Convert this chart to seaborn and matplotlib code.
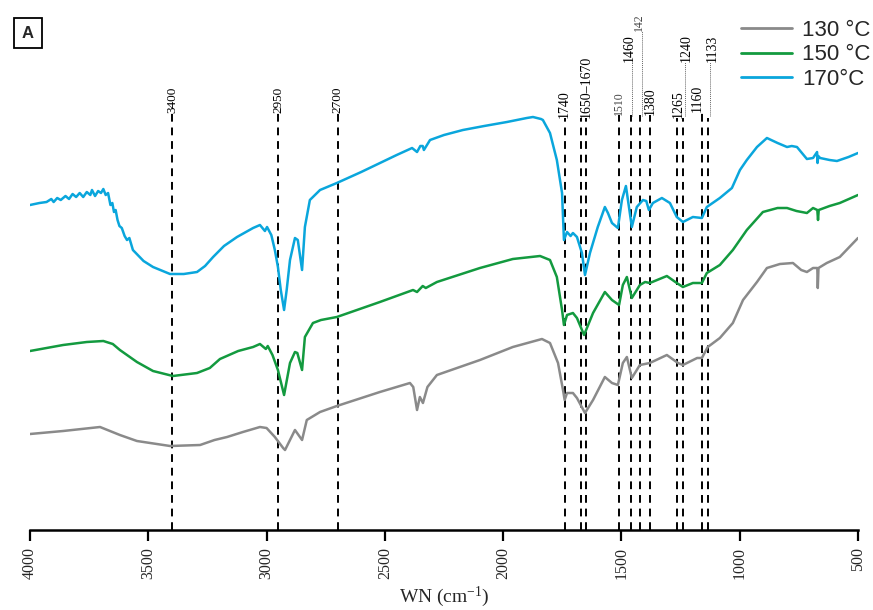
import numpy as np
import pandas as pd
import matplotlib
matplotlib.use("Agg")
import matplotlib.pyplot as plt
import seaborn as sns
from matplotlib.lines import Line2D

# ---------------- data (arbitrary transmittance units, offset per series) ----------------
wn_170 = [4000, 3960, 3930, 3910, 3900, 3885, 3870, 3850, 3835, 3820, 3805, 3790, 3775, 3760,
          3745, 3738, 3725, 3712, 3700, 3690, 3680, 3670, 3660, 3652, 3645, 3638, 3630, 3622,
          3612, 3600, 3590, 3580, 3565, 3520, 3480, 3408, 3350, 3294, 3260, 3226, 3180, 3125,
          3057, 3028, 3007, 2998, 2980, 2965, 2952, 2940, 2926, 2915, 2901, 2880, 2868, 2850,
          2838, 2817, 2774, 2703, 2600, 2521, 2450, 2385, 2364, 2350, 2340, 2335, 2309, 2250,
          2170, 2080, 1984, 1900, 1874, 1840, 1832, 1802, 1773, 1751, 1743, 1730, 1715, 1705,
          1688, 1667, 1654, 1633, 1600, 1570, 1557, 1540, 1515, 1498, 1481, 1468, 1456, 1435,
          1409, 1395, 1384, 1367, 1329, 1295, 1266, 1240, 1198, 1160, 1139, 1084, 1033, 999,
          970, 927, 885, 840, 800, 780, 758, 716, 690, 673, 671, 668, 660, 620, 589, 540, 500]
py_170 = [205, 203, 202, 199, 202, 198, 200, 196, 199, 194, 197, 193, 197, 192,
          195, 190, 196, 191, 193, 189, 195, 193, 205, 203, 212, 210, 220, 226,
          228, 236, 240, 238, 250, 261, 267, 274, 274, 272, 266, 257, 246, 237,
          228, 225, 231, 227, 235, 250, 267, 290, 310, 290, 260, 238, 240, 270,
          227, 200, 190, 183, 172, 163, 155, 148, 152, 146, 146, 150, 140, 135,
          130, 126, 122, 118, 117, 119, 120, 133, 160, 193, 240, 232, 236, 233,
          237, 253, 275, 253, 227, 207, 213, 223, 228, 200, 186, 207, 227, 207,
          200, 201, 210, 203, 198, 203, 217, 222, 217, 218, 207, 198, 188, 170,
          160, 147, 138, 143, 147, 146, 147, 159, 158, 152, 163, 156, 158, 160, 161, 157, 153]

wn_150 = [4000, 3930, 3860, 3760, 3690, 3650, 3620, 3548, 3480, 3396, 3294, 3240, 3197, 3120,
          3057, 3028, 3003, 2995, 2975, 2952, 2926, 2901, 2880, 2870, 2850, 2838, 2804, 2770,
          2703, 2521, 2381, 2364, 2340, 2327, 2280, 2098, 1959, 1844, 1802, 1773, 1751, 1743,
          1730, 1705, 1688, 1658, 1620, 1570, 1540, 1510, 1494, 1477, 1456, 1422, 1400, 1380,
          1308, 1266, 1240, 1198, 1160, 1139, 1084, 1029, 970, 902, 840, 800, 760, 716, 690,
          672, 669, 666, 620, 577, 500]
py_150 = [351, 348, 345, 342, 341, 344, 350, 362, 371, 376, 373, 368, 359, 351,
          347, 344, 349, 346, 355, 370, 395, 363, 352, 353, 370, 337, 323, 320,
          317, 302, 290, 292, 286, 288, 282, 268, 259, 256, 260, 277, 310, 325,
          315, 313, 318, 335, 313, 292, 300, 305, 285, 277, 298, 285, 282, 283,
          276, 283, 287, 283, 283, 273, 265, 250, 230, 212, 208, 208, 211, 213, 208,
          210, 220, 210, 206, 203, 195]

wn_130 = [4000, 3860, 3704, 3620, 3548, 3408, 3281, 3220, 3167, 3100, 3028, 3000, 2965, 2930,
          2922, 2880, 2850, 2830, 2774, 2703, 2521, 2394, 2380, 2364, 2352, 2339, 2320, 2280,
          2098, 1959, 1836, 1802, 1768, 1747, 1740, 1730, 1705, 1688, 1654, 1620, 1570, 1540,
          1515, 1494, 1477, 1456, 1422, 1380, 1308, 1261, 1240, 1180, 1160, 1135, 1084, 1029,
          986, 927, 885, 830, 775, 740, 716, 690, 672, 670, 667, 632, 577, 500]
py_130 = [434, 431, 427, 435, 441, 446, 445, 440, 437, 432, 427, 428, 437, 448,
          450, 430, 440, 420, 412, 406, 392, 383, 387, 410, 397, 403, 387, 375,
          360, 347, 339, 343, 363, 390, 400, 393, 393, 398, 413, 400, 377, 383,
          385, 363, 357, 378, 365, 363, 355, 363, 365, 358, 358, 347, 338, 323,
          300, 282, 268, 264, 263, 270, 272, 268, 268, 288, 268, 263, 257, 238]

series_names = ["130 °C", "150 °C", "170°C"]
series_colors = ["#8a8a8a", "#139a3f", "#0aa6dc"]

peak_wn = [3400, 2950, 2700, 1740, 1670, 1650, 1510, 1460, 1420, 1380, 1265, 1240, 1160, 1133]
peak_labels = ["3400", "2950", "2700", "1740", "1650–1670", "1510", "1460", "142",
               "1380", "1265", "1240", "1160", "1133"]
tick_vals = [4000, 3500, 3000, 2500, 2000, 1500, 1000, 500]

# ---------------- build frame ----------------
H = 530  # baseline height (axis units)
frames = []
for name, w, p in zip(series_names, [wn_130, wn_150, wn_170], [py_130, py_150, py_170]):
    frames.append(pd.DataFrame({"WN": w, "T": [H - v for v in p], "series": name}))
df = pd.concat(frames, ignore_index=True)

sns.set_style("white")
plt.rcParams["font.family"] = ["Liberation Serif", "DejaVu Serif"]
plt.rcParams["mathtext.default"] = "regular"

fig = plt.figure(figsize=(8.73, 6.10), dpi=100)
ax = fig.add_axes([30 / 873, 80 / 610, 828 / 873, 530 / 610])

# dashed reference lines
line_top = {3400: 113, 2950: 113, 2700: 113, 1740: 118, 1670: 118, 1650: 118, 1510: 115,
            1460: 115, 1420: 115, 1380: 115, 1265: 118, 1240: 118, 1160: 113, 1133: 118}
for w in peak_wn:
    ax.vlines(w, 0, H - line_top[w], colors="black", linestyles=(0, (4, 3)), linewidth=1.4, zorder=1)

sns.lineplot(data=df, x="WN", y="T", hue="series", palette=dict(zip(series_names, series_colors)),
             hue_order=series_names, estimator=None, sort=False, linewidth=1.8, ax=ax,
             legend=False, zorder=3)

# peak labels: (x position, bottom py, leader x or None, fontsize, color)
label_layout = [
    (3400, 113, None, 9.5, "black"),
    (2950, 113, None, 9.5, "black"),
    (2700, 113, None, 9.5, "black"),
    (1740, 118, None, 10, "black"),
    (1648, 118, None, 10, "black"),
    (1510, 115, None, 8.5, "#444444"),
    (1468, 62, 1455, 10, "black"),
    (1425, 31, 1415, 8.5, "#444444"),
    (1380, 115, None, 10, "black"),
    (1261, 118, None, 10, "black"),
    (1224, 62, 1232, 10, "black"),
    (1178, 112, None, 10, "black"),
    (1117, 62, 1126, 10, "black"),
]
for lab, (x, pyb, lx, fs, col) in zip(peak_labels, label_layout):
    ax.text(x, H - pyb, lab, rotation=90, ha="center", va="bottom", fontsize=fs, color=col,
            zorder=4)
    if lx is not None:
        ax.plot([lx, lx], [H - 116, H - pyb], color="#666666", linestyle=(0, (1, 1)),
                linewidth=0.7, zorder=2)

ax.set_xlim(4000, 500)
ax.set_ylim(0, H)
ax.set_xticks(tick_vals)
ax.set_xticklabels([str(t) for t in tick_vals], rotation=90, fontsize=11.5)
ax.set_yticks([])
ax.set_ylabel("")
ax.set_xlabel("WN (cm$^{-1}$)", fontsize=14, labelpad=4)
for s in ["top", "left", "right"]:
    ax.spines[s].set_visible(False)
ax.spines["bottom"].set_linewidth(1.8)
ax.spines["bottom"].set_color("black")
ax.tick_params(axis="x", direction="out", length=8, width=1.6, color="black", pad=4, bottom=True)
ax.patch.set_alpha(0)

# legend
handles = [Line2D([0], [0], color=c, linewidth=2) for c in series_colors]
leg = fig.legend(handles, series_names, loc="upper right", bbox_to_anchor=(1.02, 1.0),
                 frameon=False, handlelength=2.3, handletextpad=0.45, labelspacing=0.15,
                 prop={"family": ["Liberation Sans", "DejaVu Sans"], "size": 16})

# panel letter
fig.text(28 / 873, 1 - 33 / 610, "A", fontsize=12, fontweight="bold", ha="center", va="center",
         family=["Liberation Sans", "DejaVu Sans"],
         bbox=dict(boxstyle="square,pad=0.45", facecolor="white", edgecolor="black", linewidth=1.3))

fig.savefig("out.png", dpi=100)
